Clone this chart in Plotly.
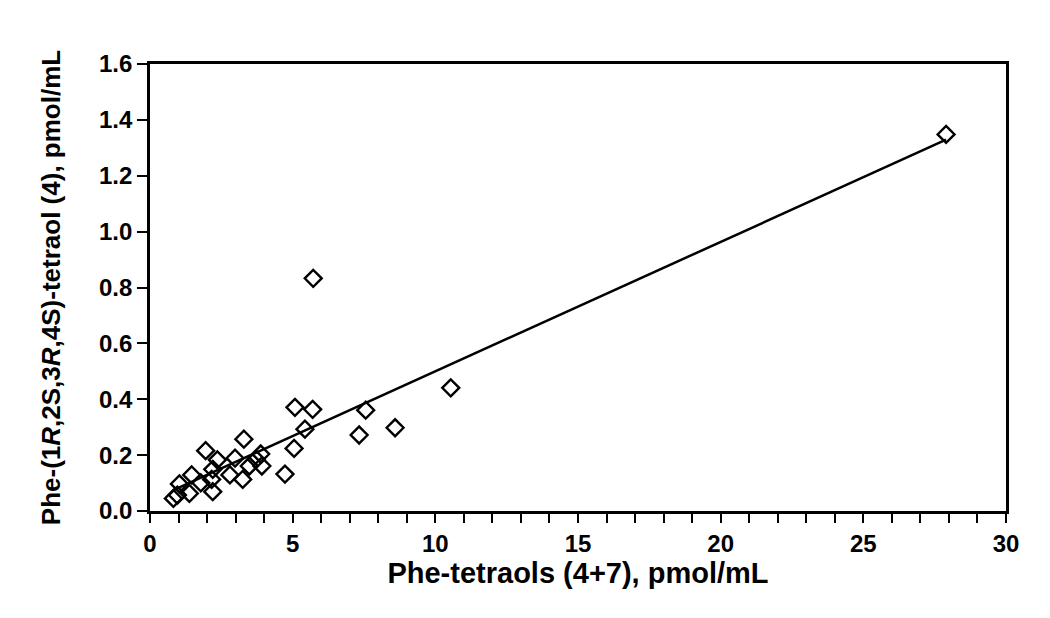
import plotly.graph_objects as go

# Phe-tetraols (4+7) vs Phe-(1R,2S,3R,4S)-tetraol (4), pmol/mL
total_tetraols = [0.82, 0.96, 1.03, 1.38, 1.46, 1.78, 1.95, 2.16, 2.20, 2.20,
                  2.36, 2.80, 2.98, 3.25, 3.29, 3.48, 3.72, 3.88, 3.92, 4.73,
                  5.05, 5.08, 5.43, 5.70, 5.72, 7.56, 7.33, 8.59, 10.54, 27.90]
tetraol_4 = [0.045, 0.057, 0.097, 0.063, 0.129, 0.101, 0.216, 0.113, 0.069, 0.149,
             0.183, 0.129, 0.189, 0.113, 0.257, 0.161, 0.185, 0.204, 0.161, 0.132,
             0.224, 0.371, 0.293, 0.364, 0.833, 0.361, 0.272, 0.298, 0.441, 1.348]

# regression line ends
fit_x = [0.82, 27.90]
fit_y = [0.075, 1.329]

x_ticks = [0, 5, 10, 15, 20, 25, 30]
y_ticks = [0.0, 0.2, 0.4, 0.6, 0.8, 1.0, 1.2, 1.4, 1.6]

fig = go.Figure()
fig.add_trace(go.Scatter(x=fit_x, y=fit_y, mode='lines',
                         line=dict(color='black', width=2.5), showlegend=False))
fig.add_trace(go.Scatter(x=total_tetraols, y=tetraol_4, mode='markers',
                         marker=dict(symbol='diamond-open', size=13, color='black',
                                     line=dict(width=2.4, color='black')),
                         showlegend=False))

font = dict(family='Liberation Sans, Arial', color='black', weight='bold')

# page body has an 8px margin, so shift the plot area back by 8px
fig.update_layout(
    width=1050, height=618,
    margin=dict(l=142, r=52, t=56, b=115),
    plot_bgcolor='white', paper_bgcolor='white',
    font=font,
)
fig.update_xaxes(
    range=[0, 30], tickvals=x_ticks, ticktext=[str(v) for v in x_ticks],
    showgrid=False, zeroline=False,
    showline=True, linecolor='black', linewidth=2.8, mirror=True,
    ticks='outside', ticklen=9, tickwidth=2.2, tickcolor='black',
    minor=dict(dtick=1, ticks='outside', ticklen=9, tickwidth=2.2, tickcolor='black'),
    tickfont=dict(size=24, **font),
    title=dict(text='Phe-tetraols (4+7), pmol/mL', font=dict(size=29, **font), standoff=3),
)
fig.update_yaxes(
    range=[0, 1.6], tickvals=y_ticks, ticktext=[f'{v:.1f}' for v in y_ticks],
    showgrid=False, zeroline=False,
    showline=True, linecolor='black', linewidth=2.8, mirror=True,
    ticks='outside', ticklen=10, tickwidth=2.2, tickcolor='black',
    tickfont=dict(size=24, **font),
    title=dict(text='Phe-(1<i>R</i>,2S,3<i>R</i>,4S)-tetraol (4), pmol/mL',
               font=dict(size=26, **font), standoff=31),
)

fig.write_html('out.html')
